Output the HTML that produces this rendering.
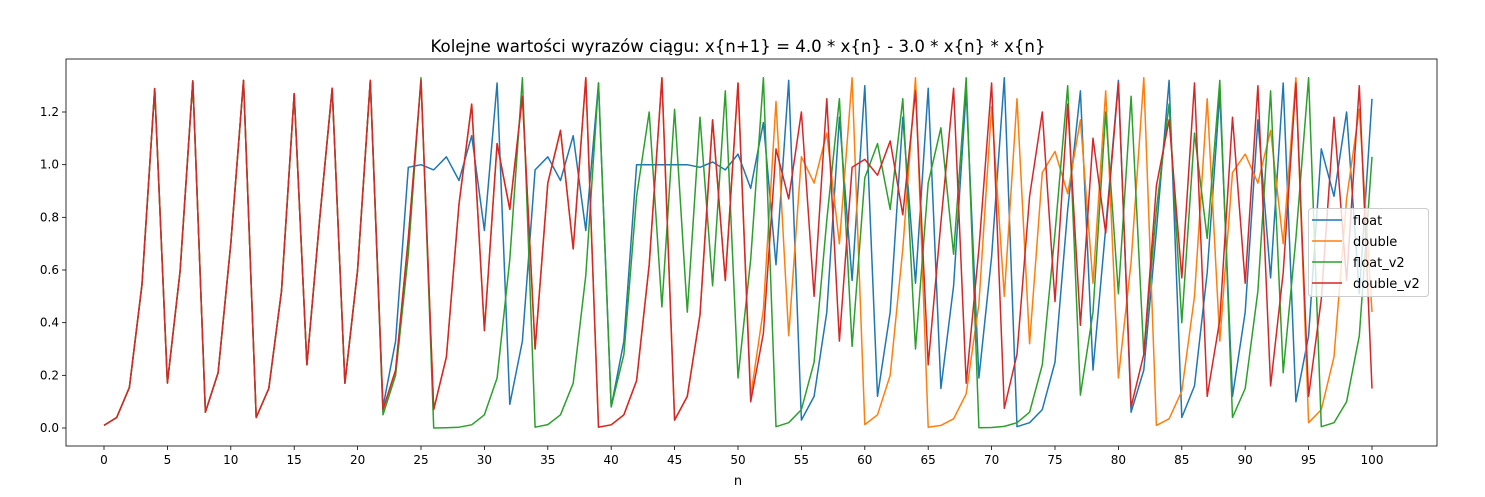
<!DOCTYPE html>
<html><head><meta charset="utf-8"><style>
body{margin:0;background:#fff;}
svg{display:block;font-family:"DejaVu Sans","Liberation Sans",sans-serif;}
</style></head><body>
<svg id="chart" width="1485" height="497"></svg>
<script>
const common = [0.01,0.04,0.154,0.545,1.289,0.171,0.596,1.318,0.06,0.21,0.70,1.32,0.04,0.15,0.52,1.27,0.24,0.79,1.29,0.17,0.60,1.32];
const floatTail = [0.08,0.33,0.99,1.00,0.98,1.03,0.94,1.11,0.75,1.31,0.09,0.33,0.98,1.03,0.94,1.11,0.75,1.31,0.08,0.33,1.00,1.00,1.00,1.00,1.00,0.99,1.01,0.98,1.04,0.91,1.16,0.62,1.32,0.03,0.12,0.44,1.18,0.56,1.30,0.12,0.44,1.18,0.55,1.29,0.15,0.54,1.28,0.19,0.65,1.33,0.005,0.02,0.07,0.25,0.83,1.28,0.22,0.76,1.32,0.06,0.22,0.75,1.32,0.04,0.16,0.59,1.27,0.12,0.44,1.17,0.57,1.31,0.10,0.35,1.06,0.88,1.20,0.51,1.25];
const floatV2Tail = [0.05,0.20,0.66,1.33,0.00,0.001,0.003,0.012,0.05,0.19,0.64,1.33,0.003,0.013,0.05,0.17,0.58,1.31,0.08,0.28,0.88,1.20,0.46,1.21,0.44,1.18,0.54,1.28,0.19,0.64,1.33,0.005,0.02,0.07,0.25,0.79,1.25,0.31,0.95,1.08,0.83,1.25,0.30,0.93,1.14,0.66,1.33,0.001,0.002,0.006,0.02,0.06,0.24,0.74,1.30,0.125,0.44,1.20,0.51,1.26,0.28,0.83,1.23,0.40,1.12,0.72,1.32,0.04,0.15,0.52,1.28,0.21,0.72,1.33,0.005,0.02,0.10,0.35,1.03];
const doubleV2Tail = [0.07,0.22,0.72,1.32,0.07,0.27,0.85,1.23,0.37,1.08,0.83,1.26,0.30,0.93,1.13,0.68,1.33,0.003,0.012,0.05,0.18,0.62,1.33,0.03,0.12,0.43,1.17,0.56,1.31,0.10,0.36,1.06,0.87,1.20,0.50,1.25,0.33,0.99,1.02,0.96,1.09,0.81,1.28,0.24,0.78,1.29,0.17,0.68,1.31,0.075,0.28,0.88,1.20,0.48,1.23,0.39,1.10,0.74,1.31,0.08,0.28,0.92,1.17,0.57,1.31,0.12,0.41,1.18,0.55,1.30,0.16,0.59,1.31,0.12,0.49,1.18,0.56,1.30,0.15];
const doubleTail = [0.12,0.45,1.24,0.35,1.03,0.93,1.12,0.70,1.33,0.013,0.05,0.20,0.68,1.33,0.003,0.01,0.035,0.13,0.47,1.22,0.50,1.25,0.32,0.97,1.05,0.89,1.17,0.55,1.28,0.19,0.63,1.33,0.01,0.035,0.14,0.50,1.25,0.33,0.97,1.04,0.93,1.13,0.70,1.33,0.02,0.07,0.27,0.87,1.21,0.44];
const xTicks = [0,5,10,15,20,25,30,35,40,45,50,55,60,65,70,75,80,85,90,95,100];
const yTicks = [0.0,0.2,0.4,0.6,0.8,1.0,1.2];
const seriesNames = ["float","double","float_v2","double_v2"];
const seriesColors = ["#1f77b4","#ff7f0e","#2ca02c","#d62728"];

const floatVals = common.concat(floatTail);
const doubleV2Vals = common.concat(doubleV2Tail);
const floatV2Vals = common.concat(floatV2Tail);
const doubleVals = doubleV2Vals.slice(0, 51).concat(doubleTail);
const allSeries = [floatVals, doubleVals, floatV2Vals, doubleV2Vals];

const NS = "http://www.w3.org/2000/svg";
const svg = document.getElementById("chart");
const L=66, R=1437, T=59, B=446;
function xs(n){ return 104 + (n/100)*(1372-104); }
function ys(v){ return 428 - (v/1.2)*(428-112); }
function mk(tag, attrs, parent){ const e=document.createElementNS(NS,tag); for(const k in attrs) e.setAttribute(k,attrs[k]); (parent||svg).appendChild(e); return e; }

const title = mk("text",{x:738,y:52,"text-anchor":"middle","font-size":"16.6",fill:"#000"});
title.textContent = "Kolejne wartości wyrazów ciągu: x{n+1} = 4.0 * x{n} - 3.0 * x{n} * x{n}";



xTicks.forEach(t=>{
  const x = xs(t);
  const ln = mk("line",{x1:x,x2:x,y1:B,y2:B+4,stroke:"#000","stroke-width":0.8});
  
  
  const tx = mk("text",{x:x,y:B+18,"text-anchor":"middle","font-size":"12",fill:"#000"});
  tx.textContent = t;
  
  
});
yTicks.forEach(t=>{
  const y = ys(t);
  const ln = mk("line",{x1:L-4,x2:L,y1:y,y2:y,stroke:"#000","stroke-width":0.8});
  
  
  const tx = mk("text",{x:L-7,y:y+4,"text-anchor":"end","font-size":"12",fill:"#000"});
  tx.textContent = t.toFixed(1);
  
  
});
const xl = mk("text",{x:738,y:485,"text-anchor":"middle","font-size":"13",fill:"#000"});
xl.textContent = "n";



allSeries.forEach((vals,i)=>{
  const pts = vals.map((v,n)=>xs(n).toFixed(1)+","+ys(v).toFixed(1)).join(" ");
  const pl = mk("polyline",{points:pts,fill:"none",stroke:seriesColors[i],"stroke-width":1.5,"stroke-linejoin":"round"});
  
  
});

const frame = mk("rect",{x:L,y:T,width:R-L,height:B-T,fill:"none",stroke:"#000","stroke-width":0.8});



const lg = mk("g",{});


mk("rect",{x:1308.5,y:208.5,width:120,height:88,rx:3,fill:"#fff","fill-opacity":0.8,stroke:"#ccc","stroke-width":1},lg);
seriesNames.forEach((nm,i)=>{
  const y = 220 + i*21;
  const g = mk("g",{},lg);
  
  
  mk("line",{x1:1312,x2:1342,y1:y,y2:y,stroke:seriesColors[i],"stroke-width":1.5},g);
  const t = mk("text",{x:1353,y:y+5,"font-size":"13",fill:"#000"},g);
  t.textContent = nm;
});
</script>
</body></html>
